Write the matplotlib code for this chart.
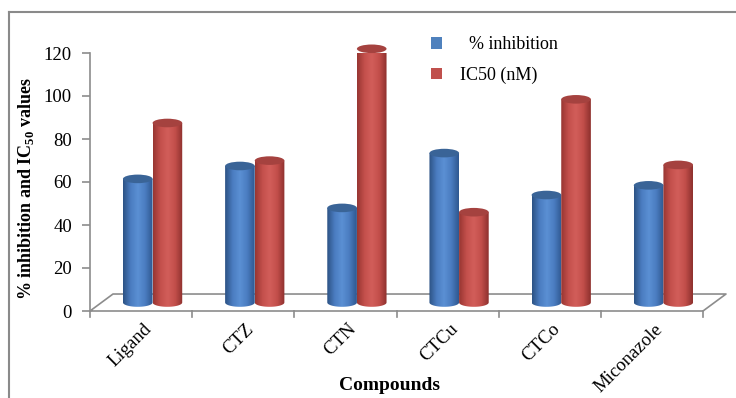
import numpy as np
import matplotlib.pyplot as plt
from matplotlib.patches import Polygon, Ellipse, Patch
from matplotlib.lines import Line2D
from matplotlib.colors import LinearSegmentedColormap

plt.rcParams['font.family'] = ['Liberation Serif', 'DejaVu Serif']
plt.rcParams['mathtext.fontset'] = 'custom'
plt.rcParams['mathtext.rm'] = 'Liberation Serif'
plt.rcParams['mathtext.bf'] = 'Liberation Serif:bold'

# data
compounds = ['Ligand', 'CTZ', 'CTN', 'CTCu', 'CTCo', 'Miconazole']
inhibition = [57.5, 63.5, 44, 69.5, 50, 54.5]
ic50 = [83.5, 66, 118, 42, 94.5, 64]

# fake 3d depth of the floor (x in categories, y in value units)
depth_x = 0.225
depth_y = 7.9
bar_w = 0.29
cap_h = 4.0

blue_cmap = LinearSegmentedColormap.from_list(
    'blue_cyl', ['#2c5385', '#4a7cc0', '#5b90d4', '#4a7cc0', '#2f5890'])
red_cmap = LinearSegmentedColormap.from_list(
    'red_cyl', ['#983632', '#c4504c', '#d25e5a', '#c24e4a', '#8e312e'])
blue_top = '#3a6497'
red_top = '#a5423f'

fig = plt.figure(figsize=(7.36, 3.98), dpi=100)
ax = fig.add_axes([90/736, 87/398, 613/736, 258/398])
ax.set_xlim(0, 6)
ax.set_ylim(0, 120)

grad = np.linspace(0, 1, 64).reshape(1, -1)


def cylinder(xc, val, cmap, topcol):
    x0, x1 = xc - bar_w/2, xc + bar_w/2
    y0 = depth_y/2
    y1 = y0 + val
    t = np.linspace(np.pi, 2*np.pi, 40)
    bottom = np.column_stack([xc + bar_w/2*np.cos(t), y0 + cap_h/2*np.sin(t)])
    pts = np.vstack([[[x0, y1]], bottom, [[x1, y1]]])
    body = Polygon(pts, closed=True, facecolor='none', edgecolor='none')
    ax.add_patch(body)
    im = ax.imshow(grad, cmap=cmap, aspect='auto', extent=(x0, x1, y0 - cap_h, y1),
                   interpolation='bilinear', zorder=2)
    im.set_clip_path(body)
    im.set_clip_box(None)
    ax.add_patch(Ellipse((xc, y1), bar_w, cap_h, facecolor=topcol,
                         edgecolor='none', zorder=3, clip_on=False))


for i in range(len(compounds)):
    mid = i + 0.5 + depth_x/2
    cylinder(mid - bar_w/2, inhibition[i], blue_cmap, blue_top)
    cylinder(mid + bar_w/2, ic50[i], red_cmap, red_top)

ax.set_xlim(0, 6)
ax.set_ylim(0, 120)

# floor outline
gray = '#8c8c8c'
floor_x = [0, 6, 6 + depth_x, depth_x, 0]
floor_y = [0, 0, depth_y, depth_y, 0]
ax.plot(floor_x, floor_y, color=gray, lw=1.2, clip_on=False, zorder=1)
for i in range(7):
    ax.plot([i, i], [0, -2.8], color=gray, lw=1.2, clip_on=False)

for s in ['top', 'right', 'bottom']:
    ax.spines[s].set_visible(False)
ax.spines['left'].set_color(gray)
ax.spines['left'].set_linewidth(1.2)
ax.set_yticks(np.arange(0, 121, 20))
ax.tick_params(axis='y', direction='out', length=6, color=gray, width=1.2,
               labelsize=13.5, pad=7)
ax.set_xticks([])

for i, name in enumerate(compounds):
    ax.text(i + 0.52, -4.5, name, rotation=45, rotation_mode='anchor',
            ha='right', va='top', fontsize=13.5)

ax.set_ylabel(r'% inhibition and IC$_{\mathbf{50}}$ values', fontsize=13,
              fontweight='bold')
ax.yaxis.set_label_coords(-0.088, 0.475)
fig.text(390/736, 1 - 386/398, 'Compounds', ha='center', va='center',
         fontsize=14, fontweight='bold')

handles = [Patch(facecolor='#4f81bd'), Patch(facecolor='#c0504d')]
fig.legend(handles, ['  % inhibition', 'IC50 (nM)'], loc='upper left',
           bbox_to_anchor=(415/736, 1 - 20/398), frameon=False, fontsize=13,
           handlelength=0.6, handleheight=0.6, handletextpad=1.0,
           labelspacing=0.75)

# chart frame
fig.add_artist(Line2D([9/736, 1], [1 - 12/398] * 2, color='#8a8a8a', lw=1.5))
fig.add_artist(Line2D([9/736] * 2, [0, 1 - 12/398], color='#8a8a8a', lw=1.5))

fig.savefig('out.png', dpi=100)
